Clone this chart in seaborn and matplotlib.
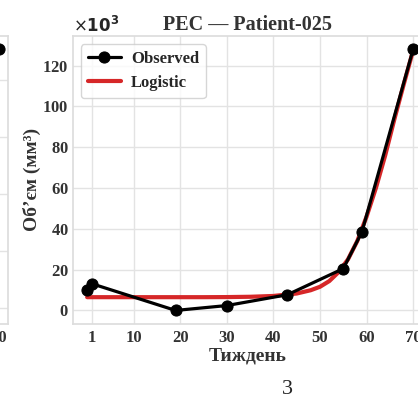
import numpy as np
import pandas as pd
import matplotlib
matplotlib.use('Agg')
import matplotlib.pyplot as plt
import seaborn as sns

# observed tumour volume, mm^3
weeks = [0, 1, 19, 30, 43, 55, 59, 70]
volume = [10200, 13100, 0, 2400, 7700, 20500, 38500, 128000]

# logistic fit
fit_weeks = [0, 5, 10, 15, 20, 25, 30, 35, 40, 45, 48, 50, 52, 54, 56, 58, 60, 62, 64, 66, 68, 70]
fit_volume = [6500, 6500, 6500, 6500, 6500, 6500, 6550, 6700, 7100, 8300, 9900, 11600, 14400,
              18800, 25000, 34000, 46000, 60000, 76000, 94000, 111000, 127500]

# neighbouring panel (only its right edge is visible)
left_weeks = [60, 70]
left_volume = [40, 91]

title = 'PEC — Patient-025'
xlabel = 'Тиждень'
ylabel = 'Об’єм (мм³)'
xticks = [1, 10, 20, 30, 40, 50, 60, 70]

sns.set_theme(style='whitegrid')
plt.rcParams['font.family'] = ['Liberation Serif', 'DejaVu Serif']
plt.rcParams['axes.edgecolor'] = '#dddddd'
plt.rcParams['grid.color'] = '#e3e3e3'

W, H = 418, 401
fig = plt.figure(figsize=(W / 100, H / 100), dpi=100)

def px_axes(x0, x1, y0, y1):
    return fig.add_axes([x0 / W, 1 - y1 / H, (x1 - x0) / W, (y1 - y0) / H])

red = '#d62728'

# partial left panel
axl = px_axes(7.5 - 349.3, 7.5, 36, 323.5)
sns.lineplot(x=left_weeks, y=left_volume, ax=axl, color=red, linewidth=3)
sns.lineplot(x=left_weeks, y=left_volume, ax=axl, color='black', linewidth=2.2,
             marker='o', markersize=8, markeredgecolor='black')
axl.set_xlim(-3.1, 71.9)
axl.set_ylim(-5.44, 95.4)
axl.set_xticks(xticks)
axl.set_xticklabels([str(t) for t in xticks], fontsize=12, fontweight='bold', color='#333333')
axl.set_yticks([0, 20, 40, 60, 80])
axl.tick_params(axis='y', labelleft=False, length=0)
axl.tick_params(axis='x', length=0, pad=5)

# main panel
ax = px_axes(72.7, 422, 36, 323.5)
df_obs = pd.DataFrame({'week': weeks, 'volume': volume})
df_fit = pd.DataFrame({'week': fit_weeks, 'volume': fit_volume})
sns.lineplot(data=df_obs, x='week', y='volume', ax=ax, color='black', linewidth=2.3,
             marker='o', markersize=8, markeredgecolor='black', label='Observed', zorder=3)
sns.lineplot(data=df_fit, x='week', y='volume', ax=ax, color=red, linewidth=3,
             label='Logistic', zorder=2)

ax.set_xlim(-3.1, 71.9)
ax.set_ylim(-6400, 134500)
ax.set_xticks(xticks)
ax.set_yticks(np.arange(0, 121000, 20000))
ax.ticklabel_format(axis='y', style='sci', scilimits=(3, 3), useMathText=True)
for lab in ax.get_xticklabels() + ax.get_yticklabels():
    lab.set_fontweight('bold')
    lab.set_fontsize(12)
    lab.set_color('#333333')
ax.tick_params(axis='y', length=0, pad=3)
ax.tick_params(axis='x', length=0, pad=5)
off = ax.yaxis.get_offset_text()
off.set_fontsize(12)
off.set_fontweight('bold')
off.set_family('DejaVu Sans')

ax.set_title(title, fontsize=14.5, fontweight='bold', color='#333333', pad=4)
ax.set_xlabel(xlabel, fontsize=14, fontweight='bold', color='#333333', labelpad=1)
ax.set_ylabel(ylabel, fontsize=14, fontweight='bold', color='#333333', labelpad=1)

leg = ax.legend(loc='upper left', prop={'weight': 'bold', 'size': 12}, frameon=True,
                handletextpad=0.6)
leg.get_frame().set_edgecolor('#cccccc')

fig.text(287 / W, 1 - 390 / H, '3', ha='center', va='center', fontsize=16)

fig.savefig('out.png', dpi=100)
